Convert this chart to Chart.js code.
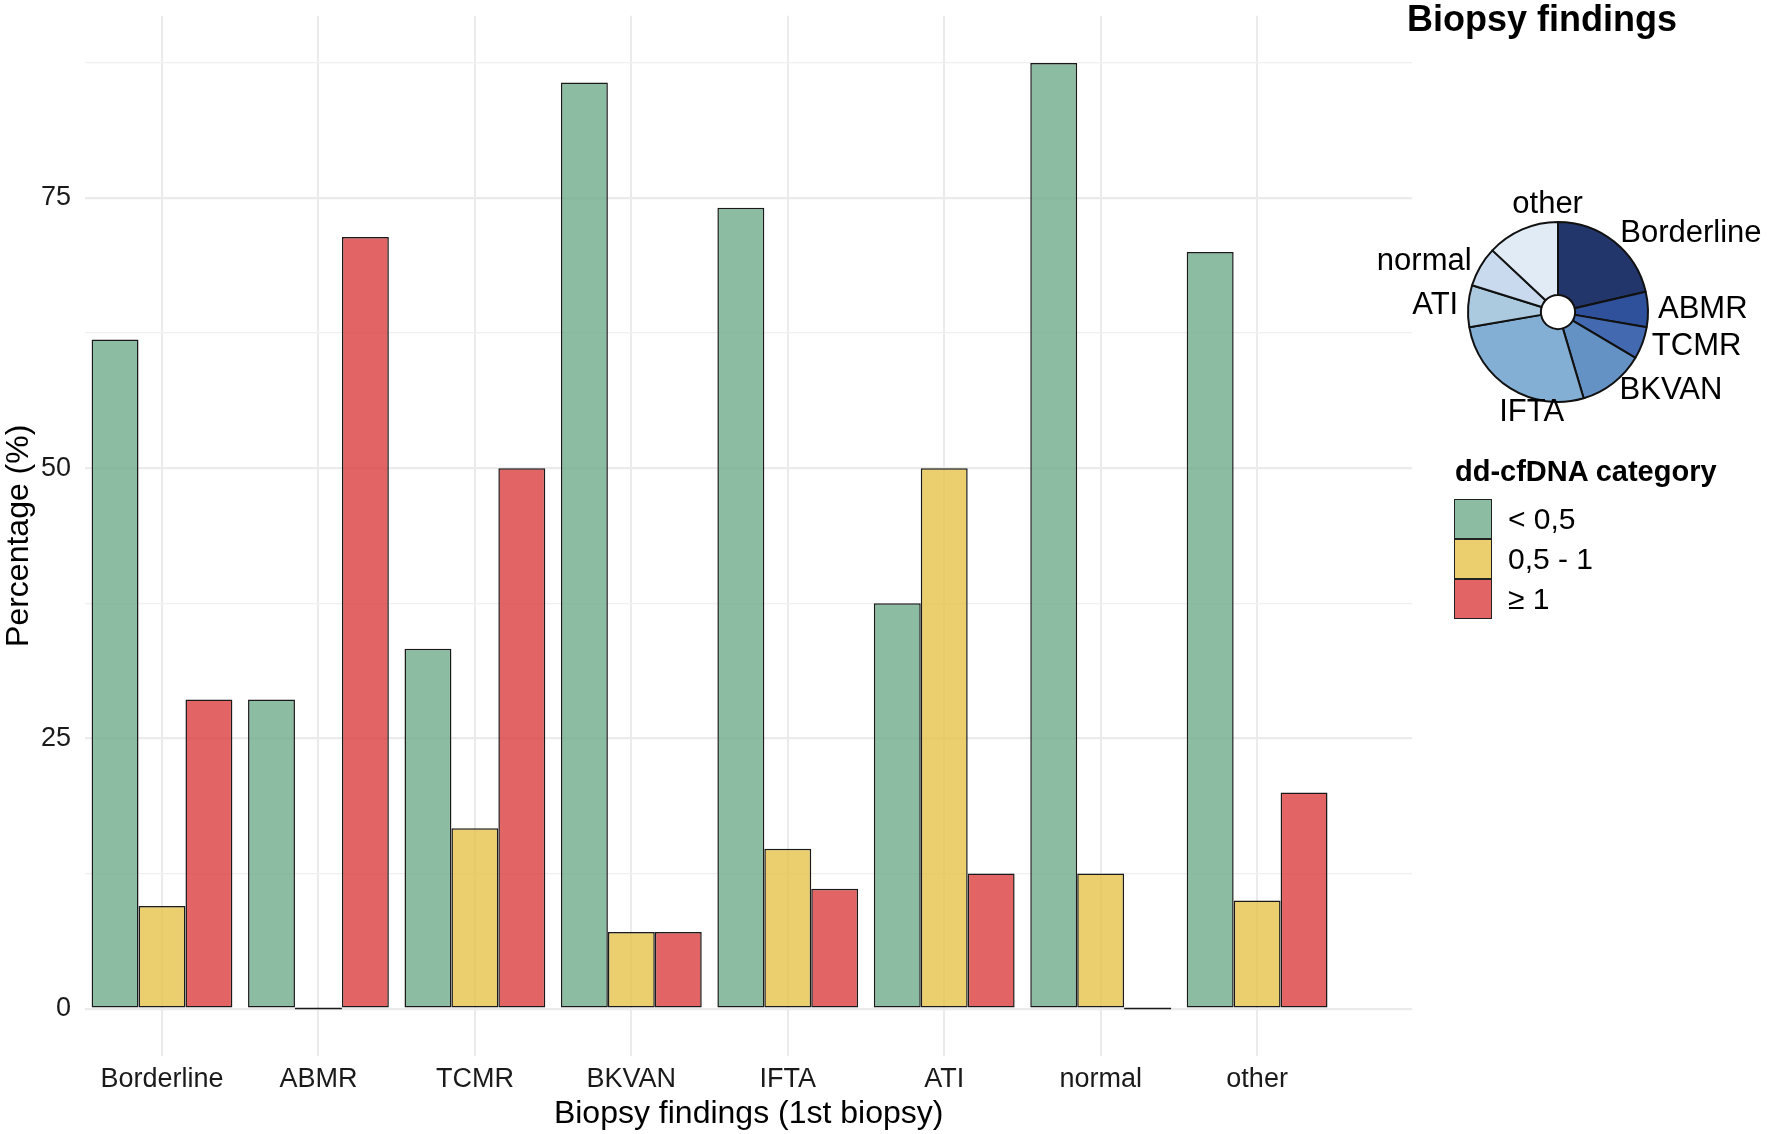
<!DOCTYPE html>
<html>
<head>
<meta charset="utf-8">
<script src="https://cdn.jsdelivr.net/npm/chart.js@4.4.1/dist/chart.umd.min.js"></script>
<style>
html,body{margin:0;padding:0;background:#fff;}
#wrap{position:relative;width:1772px;height:1134px;overflow:hidden;font-family:"Liberation Sans",Arial,Helvetica,sans-serif;color:#000;}
#main{position:absolute;left:0;top:0;}
#pie{position:absolute;left:1360px;top:170px;}
#pieTitle{position:absolute;left:1342px;width:400px;top:1px;text-align:center;font-weight:bold;font-size:36px;line-height:36px;white-space:nowrap;}
#legTitle{position:absolute;left:1455px;top:457px;font-weight:bold;font-size:29px;line-height:29px;white-space:nowrap;}
.row{position:absolute;left:1454px;height:40px;display:flex;align-items:center;}
.box{width:38px;height:40px;box-sizing:border-box;border:1.5px solid #222;}
.lab{margin-left:16px;font-size:30px;line-height:30px;white-space:nowrap;}
</style>
</head>
<body>
<div id="wrap">
  <canvas id="main" width="1772" height="1134"></canvas>
  <canvas id="pie" width="412" height="290"></canvas>
  <div id="pieTitle">Biopsy findings</div>
  <div id="legTitle">dd-cfDNA category</div>
  <div id="legend"></div>
</div>
<script>
// ---- data ----
const categories = ["Borderline", "ABMR", "TCMR", "BKVAN", "IFTA", "ATI", "normal", "other"];
const seriesNames = ["< 0,5", "0,5 - 1", "\u2265 1"];
const lowValues  = [61.9, 28.6, 33.3, 85.7, 74.1, 37.5, 87.5, 70.0];
const midValues  = [9.5, 0, 16.7, 7.1, 14.8, 50.0, 12.5, 10.0];
const highValues = [28.6, 71.4, 50.0, 7.1, 11.1, 12.5, 0, 20.0];
const pieShares  = [21.4, 6.3, 5.8, 11.9, 26.9, 7.5, 7.2, 13.0];
const yMajorTicks = [0, 25, 50, 75];
const yMinorTicks = [12.5, 37.5, 62.5, 87.5];

// ---- styles ----
const FONT = '"Liberation Sans", Arial, Helvetica, sans-serif';
Chart.defaults.font.family = FONT;
Chart.defaults.color = '#000';
const barColors = ['rgba(111,172,140,0.8)', 'rgba(230,195,74,0.8)', 'rgba(219,61,61,0.8)'];
const pieColors = ['#22366B', '#2F519B', '#4369B0', '#6492C5', '#84AFD4', '#ABCAE0', '#C9DAEE', '#E0EBF6'];

// legend (HTML)
const legend = document.getElementById('legend');
seriesNames.forEach((n, i) => {
  const r = document.createElement('div');
  r.className = 'row';
  r.style.top = (499 + i * 40) + 'px';
  const b = document.createElement('div');
  b.className = 'box';
  b.style.background = barColors[i];
  const t = document.createElement('div');
  t.className = 'lab';
  t.textContent = n;
  r.appendChild(b); r.appendChild(t);
  legend.appendChild(r);
});

const toPoints = arr => arr.map((v, i) => ({x: i + 1, y: v}));

const zeroBarPlugin = {
  id: 'zeroBars',
  afterDatasetsDraw(chart) {
    const ctx = chart.ctx;
    ctx.save();
    ctx.strokeStyle = '#1a1a1a';
    ctx.lineWidth = 1.5;
    chart.data.datasets.forEach((ds, di) => {
      const meta = chart.getDatasetMeta(di);
      meta.data.forEach((el, i) => {
        if (ds.data[i].y === 0) {
          const p = el.getProps(['x', 'y', 'width'], true);
          ctx.beginPath();
          ctx.moveTo(p.x - p.width / 2, p.y);
          ctx.lineTo(p.x + p.width / 2, p.y);
          ctx.stroke();
        }
      });
    });
    ctx.restore();
  }
};

new Chart(document.getElementById('main'), {
  type: 'bar',
  data: {
    datasets: [lowValues, midValues, highValues].map((vals, i) => ({
      label: seriesNames[i],
      data: toPoints(vals),
      backgroundColor: barColors[i],
      borderColor: '#1a1a1a',
      borderWidth: 1.5,
      borderSkipped: false,
      categoryPercentage: 0.9,
      barPercentage: 1.0
    }))
  },
  options: {
    responsive: false,
    animation: false,
    devicePixelRatio: 1,
    layout: {padding: {top: 0, right: 360, bottom: 1, left: 0}},
    plugins: {legend: {display: false}, tooltip: {enabled: false}},
    scales: {
      x: {
        type: 'linear',
        offset: false,
        min: 0.51,
        max: 8.99,
        afterBuildTicks: (scale) => { scale.ticks = categories.map((c, i) => ({value: i + 1})); },
        ticks: {
          autoSkip: false, maxRotation: 0, padding: 8.5,
          font: {size: 27, lineHeight: 1.1},
          color: '#1a1a1a',
          callback: (v) => categories[Math.round(v) - 1] || ''
        },
        grid: {offset: false, color: '#EBEBEB', lineWidth: 2, drawTicks: false},
        border: {display: false},
        title: {display: true, text: 'Biopsy findings (1st biopsy)', font: {size: 32, lineHeight: 1.2}, padding: {top: -8, bottom: 0}, color: '#000'}
      },
      y: {
        type: 'linear',
        min: -4.375,
        max: 91.875,
        afterBuildTicks: (scale) => {
          scale.ticks = yMajorTicks.concat(yMinorTicks).sort((a, b) => a - b).map(v => ({value: v}));
        },
        ticks: {
          padding: 14.3,
          font: {size: 27, lineHeight: 0.1},
          color: '#1a1a1a',
          callback: (v) => yMajorTicks.includes(v) ? String(v) : ''
        },
        grid: {
          drawTicks: false,
          color: (ctx) => yMajorTicks.includes(ctx.tick && ctx.tick.value) ? '#EBEBEB' : '#F0F0F0',
          lineWidth: (ctx) => yMajorTicks.includes(ctx.tick && ctx.tick.value) ? 2.2 : 1.3
        },
        border: {display: false},
        title: {display: true, text: 'Percentage (%)', font: {size: 32, lineHeight: 1.2}, padding: {top: 0, bottom: -11.7}, color: '#000'}
      }
    }
  },
  plugins: [zeroBarPlugin]
});

// ---- pie (doughnut) ----
const pieLabelPlugin = {
  id: 'pieLabels',
  afterDatasetsDraw(chart) {
    const ctx = chart.ctx;
    const meta = chart.getDatasetMeta(0);
    ctx.save();
    ctx.font = '31px ' + FONT;
    ctx.fillStyle = '#000';
    meta.data.forEach((arc, i) => {
      const p = arc.getProps(['x', 'y', 'startAngle', 'endAngle', 'outerRadius'], true);
      const mid = (p.startAngle + p.endAngle) / 2;
      const r = p.outerRadius + 10;
      const px = p.x + r * Math.cos(mid);
      const py = p.y + r * Math.sin(mid);
      const up = -Math.sin(mid); // vertical component (positive = up)
      if (Math.abs(up) > 0.82) {
        ctx.textAlign = 'left';
        ctx.textBaseline = up > 0 ? 'bottom' : 'top';
        ctx.fillText(categories[i], px - 6, py);
      } else {
        ctx.textAlign = Math.cos(mid) > 0 ? 'left' : 'right';
        ctx.textBaseline = 'middle';
        ctx.fillText(categories[i], px, py);
      }
    });
    ctx.restore();
  }
};

new Chart(document.getElementById('pie'), {
  type: 'doughnut',
  data: {
    labels: categories,
    datasets: [{
      data: pieShares,
      backgroundColor: pieColors,
      borderColor: '#111',
      borderWidth: 2,
      hoverOffset: 0
    }]
  },
  options: {
    responsive: false,
    animation: false,
    devicePixelRatio: 1,
    cutout: '19%',
    layout: {padding: {left: 107, right: 123, top: 51, bottom: 57}},
    plugins: {legend: {display: false}, tooltip: {enabled: false}}
  },
  plugins: [pieLabelPlugin]
});
</script>
</body>
</html>
